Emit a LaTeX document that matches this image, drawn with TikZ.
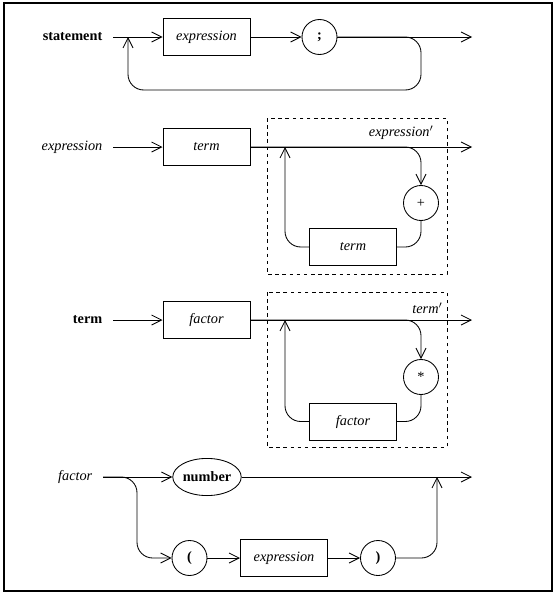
\documentclass[tikz,border=0pt]{standalone}
\usepackage{fontspec}
\setmainfont{Liberation Serif}
\usepackage{tikz}
\usetikzlibrary{arrows.meta, shapes.geometric}

\tikzset{
  arr/.style={-{Straight Barb[length=7pt,width=7pt]}},
  lbl/.style={inner sep=0pt, outer sep=7.5pt, anchor=east},
  box/.style={draw, rectangle, minimum width=61pt, minimum height=26pt, inner sep=0pt, font=\itshape},
  tok/.style={draw, circle, minimum size=24.5pt, inner sep=0pt, font=\bfseries},
  oval/.style={draw, ellipse, minimum width=47.6pt, minimum height=26pt, inner sep=0pt, font=\bfseries},
  dashbox/.style={dash pattern=on 2.5pt off 2.5pt},
  backpath/.style={rounded corners=11pt}
}

\begin{document}
\begin{tikzpicture}[x=0.7pt, y=-0.7pt, line width=0.6pt]
  \useasboundingbox (0,0) rectangle (557,596);
  \draw[line width=0.8pt] (4,3) rectangle (552,591);

  % statement
  \node[lbl, font=\bfseries] (stmt) at (113,37) {statement};
  \node[box] (e1) at (206.5,37) {expression};
  \node[tok] (semi) at (319.5,37) {;};
  \coordinate (out1) at (472,37);
  \coordinate (j1) at (128,37);
  \coordinate (lp1) at (421,90);
  \draw[arr] (stmt) -- (e1);
  \draw[arr] (e1) -- (semi);
  \draw[arr] (semi) -- (out1);
  \draw[arr, backpath] (semi.east) -| (lp1) -| (j1);

  % expression
  \draw[dashbox] (267,118) rectangle (447,274);
  \node[lbl, font=\itshape] (exprl) at (113,147) {expression};
  \node[box] (t1) at (206.5,147) {term};
  \node[tok, font=\normalfont] (plus) at (421,203) {+};
  \node[box] (t2) at (353,247) {term};
  \node[anchor=east, inner sep=0pt, font=\itshape] (exprp) at (434,133) {expression$'$};
  \coordinate (out2) at (472,147);
  \coordinate (j2) at (285,147);
  \draw[arr] (exprl) -- (t1);
  \draw[arr] (t1) -- (out2);
  \draw[arr, backpath] (t1.east) -| (plus.north);
  \draw[backpath] (plus.south) |- (t2.east);
  \draw[arr, backpath] (t2.west) -| (j2);

  % term
  \draw[dashbox] (267,292) rectangle (447,447);
  \node[lbl, font=\bfseries] (terml) at (113,320) {term};
  \node[box] (f1) at (206.5,320) {factor};
  \node[tok, font=\normalfont] (star) at (421,377) {*};
  \node[box] (f2) at (353,421.5) {factor};
  \node[anchor=east, inner sep=0pt, font=\itshape] (termp) at (443,308) {term$'$};
  \coordinate (out3) at (472,320);
  \coordinate (j3) at (285,320);
  \draw[arr] (terml) -- (f1);
  \draw[arr] (f1) -- (out3);
  \draw[arr, backpath] (f1.east) -| (star.north);
  \draw[backpath] (star.south) |- (f2.east);
  \draw[arr, backpath] (f2.west) -| (j3);

  % factor
  \node[lbl, font=\itshape] (factl) at (103,477) {factor};
  \node[oval] (num) at (207,477) {number};
  \node[tok] (lp) at (189.5,558) {(};
  \node[box] (e2) at (284,558) {expression};
  \node[tok] (rp) at (378,558) {)};
  \coordinate (out4) at (472,477);
  \coordinate (j4) at (437,477);
  \coordinate (dn4) at (137,558);
  \draw[arr] (factl) -- (num);
  \draw[arr] (num) -- (out4);
  \draw[arr, backpath] (factl.east) -| (dn4) -- (lp);
  \draw[arr] (lp) -- (e2);
  \draw[arr] (e2) -- (rp);
  \draw[arr, backpath] (rp.east) -| (j4);
\end{tikzpicture}
\end{document}
